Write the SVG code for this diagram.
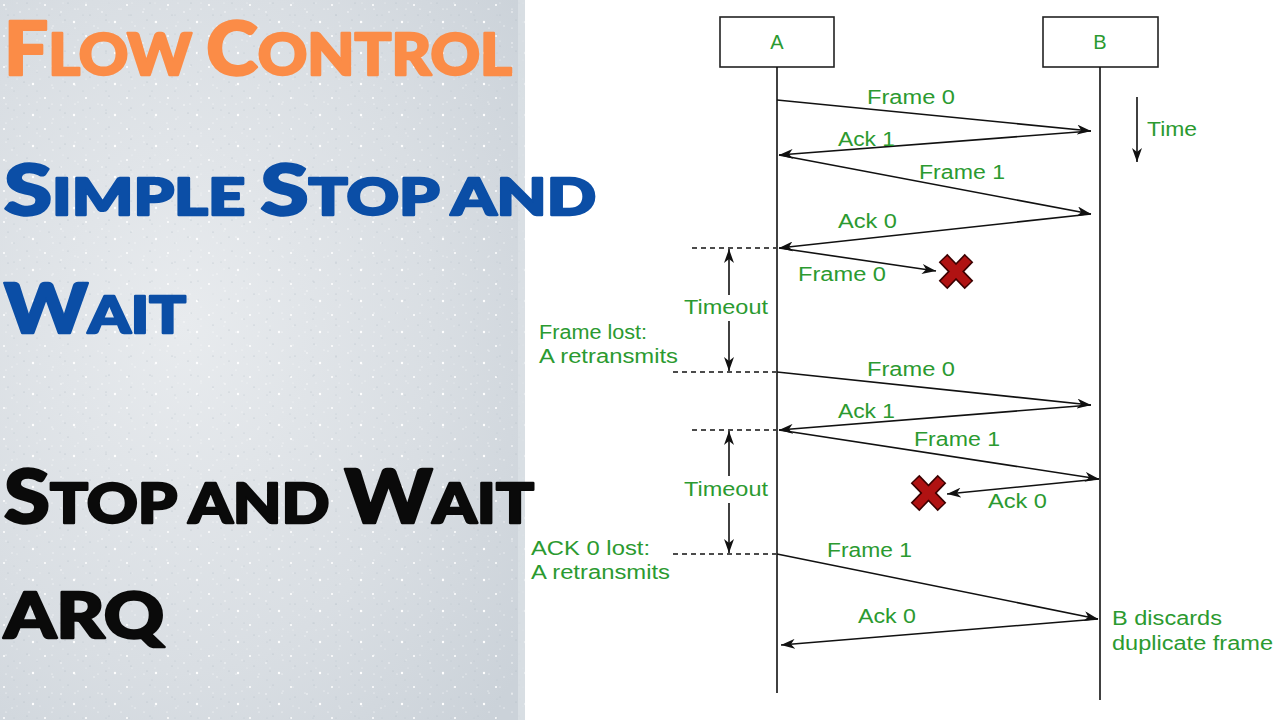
<svg xmlns="http://www.w3.org/2000/svg" width="1280" height="720" viewBox="0 0 1280 720">
<defs>
<radialGradient id="bg" cx="0.35" cy="0.45" r="0.8">
<stop offset="0" stop-color="#e8ebee"/>
<stop offset="0.6" stop-color="#d9dee3"/>
<stop offset="1" stop-color="#cbd2d9"/>
</radialGradient>
<pattern id="sparkle" width="41" height="31" patternUnits="userSpaceOnUse">
<circle cx="4" cy="5" r="1" fill="#ffffff"/>
<circle cx="20" cy="12" r="0.8" fill="#ffffff" opacity="0.8"/>
<circle cx="33" cy="22" r="1.2" fill="#ffffff"/>
<circle cx="12" cy="26" r="0.7" fill="#ffffff" opacity="0.7"/>
<circle cx="27" cy="3" r="0.6" fill="#b3bdc7"/>
<circle cx="8" cy="15" r="0.6" fill="#b3bdc7"/>
<circle cx="37" cy="9" r="0.5" fill="#ffffff"/>
<circle cx="24" cy="20" r="0.5" fill="#aab5c0"/>
</pattern>
<pattern id="sparkle2" width="23" height="19" patternUnits="userSpaceOnUse">
<circle cx="6" cy="9" r="0.6" fill="#ffffff" opacity="0.9"/>
<circle cx="17" cy="3" r="0.5" fill="#ffffff" opacity="0.7"/>
<circle cx="14" cy="15" r="0.5" fill="#b8c2cb"/>
</pattern>
<marker id="ah" viewBox="0 0 14 10" refX="14" refY="5" markerWidth="14" markerHeight="10" markerUnits="userSpaceOnUse" orient="auto-start-reverse">
<path d="M0,0 L14,5 L0,10 L4,5 z" fill="#111"/>
</marker>
<style>
.t{font-family:Lato,"DejaVu Sans",sans-serif;font-weight:900;stroke-width:2.4;stroke-linejoin:round;paint-order:stroke;}
.g{font-family:"Liberation Sans",Arial,sans-serif;font-size:20px;fill:#2b9a30;}
.ln{stroke:#111;stroke-width:1.6;fill:none;}
.ar{stroke:#111;stroke-width:1.6;fill:none;marker-end:url(#ah);}
.da{stroke:#111;stroke-width:1.6;fill:none;stroke-dasharray:5,4;}
.box{fill:#fff;stroke:#222;stroke-width:1.6;}
.x{stroke:#3a0000;stroke-width:12;stroke-linecap:butt;}
.xi{stroke:#b01212;stroke-width:9;stroke-linecap:butt;}
</style>
</defs>
<rect x="0" y="0" width="1280" height="720" fill="#ffffff"/>
<g id="background">
<rect x="0" y="0" width="525" height="720" fill="url(#bg)"/>
<rect x="0" y="0" width="525" height="720" fill="url(#sparkle)"/>
<rect x="0" y="0" width="525" height="720" fill="url(#sparkle2)"/>
<rect x="518" y="0" width="7" height="720" fill="#dde2e7" opacity="0.7"/>
</g>
<g id="titles" class="t">
<text x="4" y="75" fill="#fb8c47" stroke="#fb8c47" textLength="508" lengthAdjust="spacingAndGlyphs"><tspan font-size="74">F</tspan><tspan font-size="58">LOW </tspan><tspan font-size="74">C</tspan><tspan font-size="58">ONTROL</tspan></text>
<text x="4" y="215" fill="#0b4ea6" stroke="#0b4ea6" textLength="592" lengthAdjust="spacingAndGlyphs"><tspan font-size="70">S</tspan><tspan font-size="52">IMPLE </tspan><tspan font-size="70">S</tspan><tspan font-size="52">TOP AND</tspan></text>
<text x="4" y="333" fill="#0b4ea6" stroke="#0b4ea6" textLength="182" lengthAdjust="spacingAndGlyphs"><tspan font-size="68">W</tspan><tspan font-size="52">AIT</tspan></text>
<text x="4" y="523" fill="#0a0a0a" stroke="#0a0a0a" textLength="530" lengthAdjust="spacingAndGlyphs"><tspan font-size="74">S</tspan><tspan font-size="56">TOP AND </tspan><tspan font-size="74">W</tspan><tspan font-size="56">AIT</tspan></text>
<text x="4" y="638" fill="#0a0a0a" stroke="#0a0a0a" font-size="62" textLength="160" lengthAdjust="spacingAndGlyphs">ARQ</text>
</g>
<g id="nodeA">
<rect class="box" x="720" y="17" width="114" height="50"/>
<text class="g" x="777" y="49" text-anchor="middle">A</text>
</g>
<g id="nodeB">
<rect class="box" x="1043" y="17" width="115" height="50"/>
<text class="g" x="1100" y="49" text-anchor="middle">B</text>
</g>
<g id="connectors">
<line class="ln" x1="777" y1="67" x2="777" y2="693"/>
<line class="ln" x1="1100" y1="67" x2="1100" y2="700"/>
<line class="ar" x1="1137" y1="97" x2="1137" y2="162"/>
<line class="ar" x1="777" y1="100" x2="1091" y2="131"/>
<line class="ar" x1="1091" y1="131" x2="779" y2="155"/>
<line class="ar" x1="779" y1="155" x2="1091" y2="214"/>
<line class="ar" x1="1091" y1="214" x2="779" y2="248"/>
<line class="ar" x1="779" y1="248" x2="936" y2="271"/>
<line class="da" x1="692" y1="248" x2="776" y2="248"/>
<line class="ar" x1="729" y1="295" x2="729" y2="249"/>
<line class="ar" x1="729" y1="321" x2="729" y2="371"/>
<line class="da" x1="673" y1="372" x2="776" y2="372"/>
<line class="ar" x1="777" y1="372" x2="1091" y2="405"/>
<line class="ar" x1="1091" y1="405" x2="779" y2="430"/>
<line class="da" x1="692" y1="430" x2="776" y2="430"/>
<line class="ar" x1="779" y1="430" x2="1099" y2="479"/>
<line class="ar" x1="1099" y1="479" x2="947" y2="494"/>
<line class="ar" x1="729" y1="476" x2="729" y2="431"/>
<line class="ar" x1="729" y1="503" x2="729" y2="553"/>
<line class="da" x1="673" y1="554" x2="776" y2="554"/>
<line class="ar" x1="777" y1="554" x2="1098" y2="619"/>
<line class="ar" x1="1098" y1="619" x2="781" y2="645"/>
</g>
<g id="lost1">
<line class="x" x1="943" y1="258" x2="969" y2="285"/>
<line class="x" x1="969" y1="258" x2="943" y2="285"/>
<line class="xi" x1="944" y1="259" x2="968" y2="284"/>
<line class="xi" x1="968" y1="259" x2="944" y2="284"/>
</g>
<g id="lost2">
<line class="x" x1="915" y1="479" x2="942" y2="507"/>
<line class="x" x1="942" y1="479" x2="915" y2="507"/>
<line class="xi" x1="916" y1="480" x2="941" y2="506"/>
<line class="xi" x1="941" y1="480" x2="916" y2="506"/>
</g>
<g id="labels">
<text class="g" x="867" y="104" textLength="88" lengthAdjust="spacingAndGlyphs">Frame 0</text>
<text class="g" x="838" y="146" textLength="57" lengthAdjust="spacingAndGlyphs">Ack 1</text>
<text class="g" x="919" y="179" textLength="86" lengthAdjust="spacingAndGlyphs">Frame 1</text>
<text class="g" x="838" y="228" textLength="59" lengthAdjust="spacingAndGlyphs">Ack 0</text>
<text class="g" x="1147" y="136" textLength="50" lengthAdjust="spacingAndGlyphs">Time</text>
<text class="g" x="798" y="281" textLength="88" lengthAdjust="spacingAndGlyphs">Frame 0</text>
<text class="g" x="684" y="314" textLength="84" lengthAdjust="spacingAndGlyphs">Timeout</text>
<text class="g" x="539" y="339" textLength="108" lengthAdjust="spacingAndGlyphs">Frame lost:</text>
<text class="g" x="539" y="363" textLength="139" lengthAdjust="spacingAndGlyphs">A retransmits</text>
<text class="g" x="867" y="376" textLength="88" lengthAdjust="spacingAndGlyphs">Frame 0</text>
<text class="g" x="838" y="418" textLength="57" lengthAdjust="spacingAndGlyphs">Ack 1</text>
<text class="g" x="914" y="446" textLength="86" lengthAdjust="spacingAndGlyphs">Frame 1</text>
<text class="g" x="684" y="496" textLength="84" lengthAdjust="spacingAndGlyphs">Timeout</text>
<text class="g" x="988" y="508" textLength="59" lengthAdjust="spacingAndGlyphs">Ack 0</text>
<text class="g" x="531" y="555" textLength="119" lengthAdjust="spacingAndGlyphs">ACK 0 lost:</text>
<text class="g" x="531" y="579" textLength="139" lengthAdjust="spacingAndGlyphs">A retransmits</text>
<text class="g" x="827" y="557" textLength="85" lengthAdjust="spacingAndGlyphs">Frame 1</text>
<text class="g" x="858" y="623" textLength="58" lengthAdjust="spacingAndGlyphs">Ack 0</text>
<text class="g" x="1112" y="625" textLength="110" lengthAdjust="spacingAndGlyphs">B discards</text>
<text class="g" x="1112" y="650" textLength="161" lengthAdjust="spacingAndGlyphs">duplicate frame</text>
</g>
</svg>
